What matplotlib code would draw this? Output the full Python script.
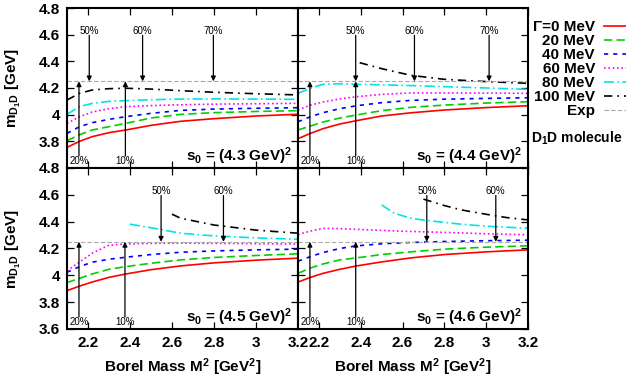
import matplotlib

matplotlib.use("Agg")  # headless
import matplotlib.pyplot as plt

plt.rcParams.update({
    "font.family": ["Liberation Sans", "DejaVu Sans"],
    "font.weight": "bold",
    "axes.labelweight": "bold",
    "mathtext.fontset": "custom",
    "mathtext.rm": "Liberation Sans:bold",
    "mathtext.it": "Liberation Sans:bold",
    "mathtext.bf": "Liberation Sans:bold",
})

# Borel mass grid (GeV^2) shared by the full curves
M2 = [2.1, 2.16, 2.22, 2.3, 2.38, 2.5, 2.64, 2.8, 3.0, 3.2]

WIDTH_LABELS = ["Γ=0 MeV", "20 MeV", "40 MeV", "60 MeV", "80 MeV", "100 MeV"]
EXP_MASS = 4.25

# s0 = (4.3 GeV)^2
S43_G0 = [3.755, 3.80, 3.835, 3.865, 3.885, 3.92, 3.95, 3.97, 3.99, 4.003]
S43_G20 = [3.805, 3.85, 3.885, 3.91, 3.935, 3.975, 4.002, 4.015, 4.024, 4.03]
S43_G40 = [3.86, 3.91, 3.94, 3.965, 3.985, 4.01, 4.032, 4.042, 4.048, 4.052]
S43_G60 = [3.935, 3.985, 4.02, 4.045, 4.06, 4.068, 4.074, 4.079, 4.082, 4.085]
S43_G80 = [4.003, 4.06, 4.085, 4.10, 4.105, 4.112, 4.117, 4.118, 4.117, 4.115]
S43_G100 = [4.11, 4.16, 4.185, 4.195, 4.198, 4.192, 4.18, 4.168, 4.157, 4.148]

# s0 = (4.4 GeV)^2
S44_G0 = [3.82, 3.86, 3.895, 3.93, 3.955, 3.99, 4.014, 4.035, 4.053, 4.067]
S44_G20 = [3.885, 3.915, 3.945, 3.975, 3.998, 4.03, 4.055, 4.072, 4.087, 4.097]
S44_G40 = [3.947, 3.985, 4.015, 4.045, 4.067, 4.09, 4.107, 4.116, 4.122, 4.127]
S44_G60 = [4.035, 4.072, 4.095, 4.118, 4.135, 4.152, 4.163, 4.163, 4.162, 4.16]
S44_G80 = [4.16, 4.198, 4.228, 4.232, 4.228, 4.224, 4.218, 4.21, 4.20, 4.19]
S44_G100_M2 = [2.395, 2.5, 2.64, 2.8, 3.0, 3.2]
S44_G100 = [4.39, 4.345, 4.295, 4.265, 4.248, 4.235]

# s0 = (4.5 GeV)^2
S45_G0 = [3.886, 3.92, 3.95, 3.985, 4.01, 4.042, 4.07, 4.093, 4.113, 4.128]
S45_G20 = [3.946, 3.978, 4.01, 4.045, 4.065, 4.09, 4.115, 4.133, 4.148, 4.16]
S45_G40 = [4.023, 4.065, 4.098, 4.12, 4.135, 4.155, 4.172, 4.182, 4.19, 4.195]
S45_G60 = [4.033, 4.10, 4.165, 4.225, 4.234, 4.238, 4.24, 4.238, 4.236, 4.234]
S45_G80_M2 = [2.4, 2.5, 2.64, 2.8, 3.0, 3.2]
S45_G80 = [4.381, 4.355, 4.314, 4.294, 4.279, 4.269]
S45_G100_M2 = [2.6, 2.64, 2.8, 3.0, 3.2]
S45_G100 = [4.456, 4.426, 4.375, 4.337, 4.314]

# s0 = (4.6 GeV)^2
S46_G0 = [3.95, 3.985, 4.015, 4.045, 4.07, 4.10, 4.13, 4.155, 4.175, 4.19]
S46_G20 = [4.015, 4.055, 4.085, 4.115, 4.13, 4.155, 4.175, 4.195, 4.21, 4.22]
S46_G40 = [4.105, 4.14, 4.17, 4.20, 4.22, 4.235, 4.245, 4.252, 4.258, 4.262]
S46_G60 = [4.305, 4.33, 4.35, 4.348, 4.343, 4.335, 4.327, 4.32, 4.31, 4.302]
S46_G80_M2 = [2.5, 2.56, 2.64, 2.72, 2.8, 2.88, 3.0, 3.2]
S46_G80 = [4.525, 4.463, 4.425, 4.408, 4.395, 4.381, 4.366, 4.351]
S46_G100_M2 = [2.7, 2.8, 2.88, 3.0, 3.1, 3.2]
S46_G100 = [4.568, 4.52, 4.488, 4.455, 4.43, 4.413]

# pole-contribution (up) and OPE-convergence (down) markers, in M^2
S43_UP, S43_DOWN = [2.157, 2.378], [2.206, 2.46, 2.797]
S44_UP, S44_DOWN = [2.157, 2.376], [2.376, 2.657, 3.014]
S45_UP, S45_DOWN = [2.157, 2.376], [2.548, 2.845]
S46_UP, S46_DOWN = [2.157, 2.376], [2.716, 3.046]
UP_LABELS = ["20%", "10%"]
DOWN_LABELS = ["50%", "60%", "70%"]

COLORS = ["#ff0000", "#00d000", "#0000ff", "#ff00ff", "#00e5e5", "#000000"]
DASHES = [None, (5, 2.5), (2.5, 3), (1, 1.6), (6, 2, 1, 2), (5, 3, 1, 3)]

panels = [
    ("4.3", [(M2, S43_G0), (M2, S43_G20), (M2, S43_G40), (M2, S43_G60),
             (M2, S43_G80), (M2, S43_G100)], S43_UP, S43_DOWN),
    ("4.4", [(M2, S44_G0), (M2, S44_G20), (M2, S44_G40), (M2, S44_G60),
             (M2, S44_G80), (S44_G100_M2, S44_G100)], S44_UP, S44_DOWN),
    ("4.5", [(M2, S45_G0), (M2, S45_G20), (M2, S45_G40), (M2, S45_G60),
             (S45_G80_M2, S45_G80), (S45_G100_M2, S45_G100)], S45_UP, S45_DOWN),
    ("4.6", [(M2, S46_G0), (M2, S46_G20), (M2, S46_G40), (M2, S46_G60),
             (S46_G80_M2, S46_G80), (S46_G100_M2, S46_G100)], S46_UP, S46_DOWN),
]

fig = plt.figure(figsize=(6.26, 3.85), dpi=100)
W, H = 626, 385
xl, xm, xr = 67 / W, 298 / W, 528 / W
yt, ym, yb = 1 - 8 / H, 1 - 168 / H, 1 - 329 / H
rects = [
    [xl, ym, xm - xl, yt - ym], [xm, ym, xr - xm, yt - ym],
    [xl, yb, xm - xl, ym - yb], [xm, yb, xr - xm, ym - yb],
]

arrow_kw = dict(arrowstyle="-|>", color="k", lw=0.9, mutation_scale=7,
                shrinkA=0, shrinkB=0)
handles = []
for i, (rect, (s0, curves, ups, downs)) in enumerate(zip(rects, panels)):
    ax = fig.add_axes(rect)
    for (x, y), c, d in zip(curves, COLORS, DASHES):
        ls = "-" if d is None else (0, d)
        (ln,) = ax.plot(x, y, color=c, lw=1.2, linestyle=ls)
        if i == 0:
            handles.append(ln)
    exp_line = ax.axhline(EXP_MASS, color="#a8a8a8", lw=0.8, linestyle=(0, (4, 2)))
    if i == 0:
        handles.append(exp_line)

    for x, lab in zip(ups, UP_LABELS):
        ax.annotate("", xy=(x, EXP_MASS), xytext=(x, 3.69), arrowprops=arrow_kw)
        ax.text(x, 3.655, lab, ha="center", va="center", fontsize=7,
                fontweight="normal")
    for x, lab in zip(downs, DOWN_LABELS):
        ax.annotate("", xy=(x, EXP_MASS), xytext=(x, 4.595), arrowprops=arrow_kw)
        ax.text(x, 4.625, lab, ha="center", va="center", fontsize=7,
                fontweight="normal")

    ax.text(0.975, 0.075, "s$_0$ = (%s GeV)$^2$" % s0, transform=ax.transAxes,
            ha="right", va="center", fontsize=11)

    ax.set_xlim(2.1, 3.2)
    ax.set_ylim(3.6, 4.8)
    ax.set_xticks([2.2, 2.4, 2.6, 2.8, 3.0, 3.2])
    if i < 2:
        ax.set_yticks([3.8, 4.0, 4.2, 4.4, 4.6, 4.8])
        ax.set_yticklabels(["3.8", "4", "4.2", "4.4", "4.6", "4.8"])
    else:
        ax.set_yticks([3.6, 3.8, 4.0, 4.2, 4.4, 4.6, 4.8])
        ax.set_yticklabels(["3.6", "3.8", "4", "4.2", "4.4", "4.6", "4.8"])
    ax.tick_params(direction="in", top=True, right=True, length=5, width=0.9,
                   labelsize=11, pad=5)
    if i >= 2:
        ax.set_xticklabels(["2.2", "2.4", "2.6", "2.8", "3", "3.2"])
        ax.set_xlabel("Borel Mass M$^2$ [GeV$^2$]", fontsize=11, labelpad=5)
    else:
        ax.tick_params(labelbottom=False)
    if i % 2 == 1:
        ax.tick_params(labelleft=False)
    else:
        ax.set_ylabel("m$_{D_1D}$ [GeV]", fontsize=11)
        ax.yaxis.set_label_coords(-0.19, 0.5)
    for sp in ax.spines.values():
        sp.set_linewidth(1.5)

fig.legend(handles, WIDTH_LABELS + ["Exp"], loc="upper right",
           bbox_to_anchor=(650 / W, 1 - 20 / H), markerfirst=False,
           frameon=False, fontsize=11, handlelength=3.0, handletextpad=0.6,
           labelspacing=0.0, borderpad=0, borderaxespad=0)
fig.text(531 / W, 1 - 138 / H, "D$_1$D molecule", ha="left", va="center",
         fontsize=10)

fig.savefig("out.png", dpi=100)
